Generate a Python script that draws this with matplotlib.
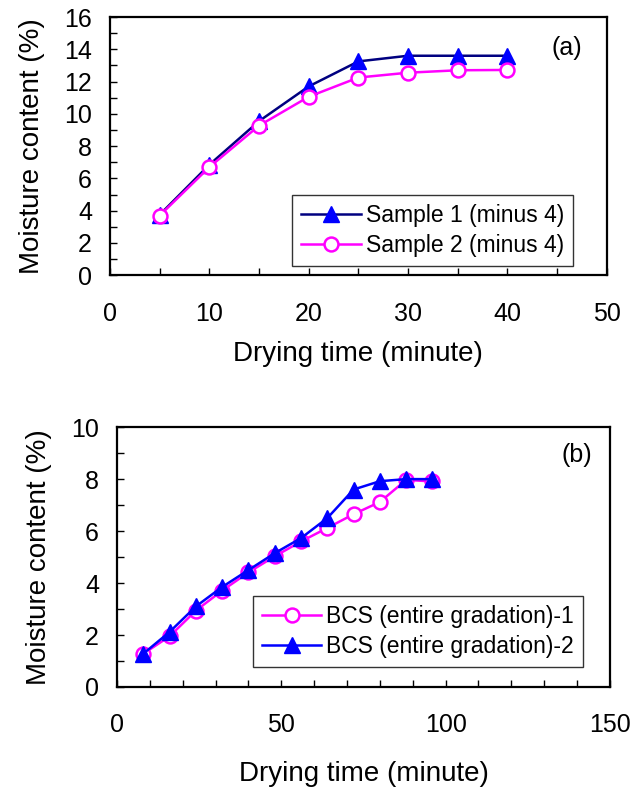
import matplotlib
matplotlib.use("Agg")
import matplotlib.pyplot as plt
from matplotlib.ticker import MultipleLocator

plt.rcParams['font.family'] = ['Liberation Sans', 'DejaVu Sans']

# panel (a)
time_a = [5, 10, 15, 20, 25, 30, 35, 40]
sample1 = [3.75, 6.85, 9.55, 11.7, 13.25, 13.6, 13.6, 13.6]
sample2 = [3.7, 6.7, 9.27, 11.06, 12.25, 12.55, 12.7, 12.72]

# panel (b)
time_b = [8, 16, 24, 32, 40, 48, 56, 64, 72, 80, 88, 96]
bcs1 = [1.28, 1.95, 2.94, 3.71, 4.41, 5.03, 5.6, 6.12, 6.65, 7.12, 7.97, 7.91]
bcs2 = [1.28, 2.12, 3.1, 3.85, 4.5, 5.15, 5.73, 6.5, 7.6, 7.92, 8.0, 8.0]

fig = plt.figure(figsize=(6.36, 7.91), dpi=100)
ax1 = fig.add_axes([0.173, 0.652, 0.781, 0.3265])
ax2 = fig.add_axes([0.184, 0.1315, 0.775, 0.3285])


def style(ax, xmax, xmaj, xmin, ymax, ymaj, ymin, xlpad):
    ax.set_xlim(0, xmax)
    ax.set_ylim(0, ymax)
    ax.xaxis.set_major_locator(MultipleLocator(xmaj))
    ax.xaxis.set_minor_locator(MultipleLocator(xmin))
    ax.yaxis.set_major_locator(MultipleLocator(ymaj))
    ax.yaxis.set_minor_locator(MultipleLocator(ymin))
    ax.tick_params(which='both', direction='in', length=5, width=1,
                   labelsize=18)
    ax.tick_params(axis='x', which='both', pad=19)
    ax.tick_params(axis='y', which='both', pad=13)
    ax.tick_params(which='both', top=False, right=False)
    for s in ax.spines.values():
        s.set_linewidth(1.6)
    ax.set_xlabel('Drying time (minute)', fontsize=20, labelpad=xlpad)
    ax.set_ylabel('Moisture content (%)', fontsize=20, labelpad=14)


def legend(ax, anchor):
    leg = ax.legend(loc='lower right', bbox_to_anchor=anchor,
                    fontsize=16.5, frameon=True, fancybox=False, borderpad=0.4,
                    handlelength=2.6, handletextpad=0.2, labelspacing=0.3,
                    borderaxespad=0)
    leg.get_frame().set_edgecolor('black')
    leg.get_frame().set_linewidth(1)


ax1.plot(time_a, sample1, color='#000080', lw=1.8, marker='^', ms=12,
         mfc='#0000FF', mec='#0000FF', label='Sample 1 (minus 4)')
ax1.plot(time_a, sample2, color='#FF00FF', lw=1.8, marker='o', ms=10,
         mfc='white', mec='#FF00FF', mew=1.8, label='Sample 2 (minus 4)')
style(ax1, 50, 10, 5, 16, 2, 1, 11)
ax1.text(0.92, 0.88, '(a)', transform=ax1.transAxes, fontsize=18,
         ha='center', va='center')
legend(ax1, (0.932, 0.035))

ax2.plot(time_b, bcs1, color='#FF00FF', lw=1.8, marker='o', ms=10,
         mfc='white', mec='#FF00FF', mew=1.8,
         label='BCS (entire gradation)-1')
ax2.plot(time_b, bcs2, color='#0000FF', lw=1.8, marker='^', ms=12,
         mfc='#0000FF', mec='#0000FF', label='BCS (entire gradation)-2')
style(ax2, 150, 50, 10, 10, 2, 1, 17)
ax2.text(0.933, 0.892, '(b)', transform=ax2.transAxes, fontsize=18,
         ha='center', va='center')
legend(ax2, (0.945, 0.077))

fig.savefig('out.png', dpi=100)
